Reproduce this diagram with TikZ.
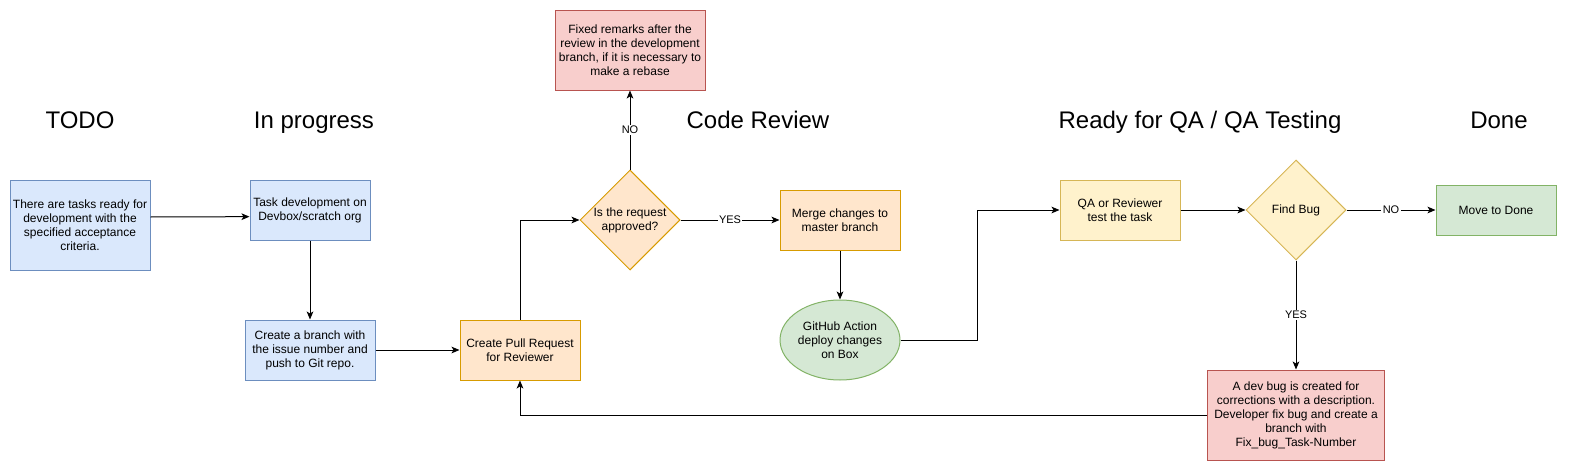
\documentclass[tikz,border=0pt]{standalone}
\usepackage{fontspec}
\setmainfont{Liberation Sans}
\usetikzlibrary{shapes,shapes.geometric,arrows.meta,positioning}
\definecolor{bluefill}{HTML}{DAE8FC}
\definecolor{bluedraw}{HTML}{6C8EBF}
\definecolor{orangefill}{HTML}{FFE6CC}
\definecolor{orangedraw}{HTML}{D79B00}
\definecolor{redfill}{HTML}{F8CECC}
\definecolor{reddraw}{HTML}{B85450}
\definecolor{greenfill}{HTML}{D5E8D4}
\definecolor{greendraw}{HTML}{82B366}
\definecolor{yellowfill}{HTML}{FFF2CC}
\definecolor{yellowdraw}{HTML}{D6B656}
\tikzset{
    box/.style={draw, line width=0.75pt, align=center, text centered,
    font=\fontsize{9pt}{10.5pt}\selectfont, inner sep=2pt,
    minimum width=90pt, minimum height=45pt},
    bluebox/.style={box, fill=bluefill, draw=bluedraw},
    orangebox/.style={box, fill=orangefill, draw=orangedraw},
    redbox/.style={box, fill=redfill, draw=reddraw},
    greenbox/.style={box, fill=greenfill, draw=greendraw},
    yellowbox/.style={box, fill=yellowfill, draw=yellowdraw},
    decision/.style={diamond, draw, line width=0.75pt, inner sep=0pt,
    minimum width=75pt, minimum height=75pt},
    dtext/.style={align=center, font=\fontsize{9pt}{10.5pt}\selectfont},
    heading/.style={anchor=base, font=\fontsize{18pt}{21pt}\selectfont},
    arr/.style={-{Stealth[length=6pt,width=5pt,inset=1.5pt]}, line width=0.75pt},
    lbl/.style={fill=white, inner sep=1pt, font=\fontsize{8.25pt}{9pt}\selectfont}
}
\begin{document}
\begin{tikzpicture}[x=0.75pt,y=-0.75pt]
    \useasboundingbox (0,0) rectangle (1572,471);
    % column headings
    \node[heading] (hTodo) at (80,128) {TODO};
    \node[heading] (hProg) at (314,128) {In progress};
    \node[heading] (hRev) at (758,128) {Code Review};
    \node[heading] (hQa) at (1200,128) {Ready for QA / QA Testing};
    \node[heading] (hDone) at (1499,128) {Done};
    % steps
    \node[bluebox, minimum width=105pt, minimum height=67.5pt] (todo) at (80,225)
        {There are tasks ready for\\development with the\\specified acceptance\\criteria.};
    \node[bluebox] (task) at (310,210) {Task development on\\Devbox/scratch org};
    \node[bluebox, minimum width=97.5pt] (branch) at (310,350)
        {Create a branch with\\the issue number and\\push to Git repo.};
    \node[orangebox] (pr) at (520,350) {Create Pull Request\\for Reviewer};
    \node[decision, fill=orangefill, draw=orangedraw,
        label={[dtext]center:Is the request\\approved?}] (approved) at (630,220) {};
    \node[redbox, minimum width=112.5pt, minimum height=60pt] (remarks) at (630,50)
        {Fixed remarks after the\\review in the development\\branch, if it is necessary to\\make a rebase};
    \node[orangebox] (merge) at (840,220) {Merge changes to\\master branch};
    \node[greenbox, ellipse, inner sep=0pt, minimum height=60pt,
        label={[dtext]center:GitHub Action\\deploy changes\\on Box}] (deploy) at (840,340) {};
    \node[yellowbox] (qa) at (1120,210) {QA or Reviewer\\test the task};
    \node[decision, fill=yellowfill, draw=yellowdraw,
        label={[dtext]center:Find Bug}] (findbug) at (1296,210) {};
    \node[greenbox, minimum height=37.5pt] (done) at (1496,210) {Move to Done};
    \node[redbox, minimum width=133pt, minimum height=67.5pt] (devbug) at (1296,415)
        {A dev bug is created for\\corrections with a description.\\Developer fix bug and create a\\branch with\\Fix\_bug\_Task-Number};
    % connectors
    \draw[arr] ([yshift=6pt]todo.east) -- ([yshift=-5pt]task.west);
    \draw[arr] (task) -- (branch);
    \draw[arr] (branch) -- (pr);
    \draw[arr] (pr.north) |- (approved.west);
    \draw[arr] (approved.north) -- node[lbl] {NO} (remarks.south);
    \draw[arr] (approved.east) -- node[lbl] {YES} (merge.west);
    \draw[arr] (merge) -- (deploy);
    \draw[arr] (deploy.east) -- ++(77,0) |- (qa.west);
    \draw[arr] (qa.east) -- (findbug.west);
    \draw[arr] (findbug.east) -- node[lbl] {NO} (done.west);
    \draw[arr] (findbug.south) -- node[lbl] {YES} (devbug.north);
    \draw[arr] (devbug.west) -| (pr.south);
\end{tikzpicture}
\end{document}
